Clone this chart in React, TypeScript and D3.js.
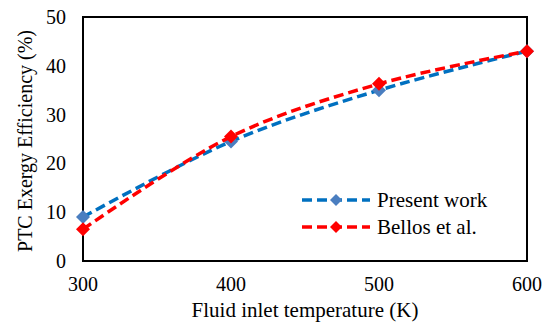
import React from "react";
import * as d3 from "d3";

const temps = [300, 400, 500, 600];
const presentWork = [9, 24.5, 35, 43];
const bellos = [6.5, 25.5, 36.3, 43];
const xTicks = [300, 400, 500, 600];
const yTicks = [0, 10, 20, 30, 40, 50];
const seriesNames = ["Present work", "Bellos et al."];

const W = 549, H = 323;
const L = 83, R = 527, T = 17, B = 261;

export default function App() {
  const x = d3.scaleLinear().domain([300, 600]).range([L, R]);
  const y = d3.scaleLinear().domain([0, 50]).range([B, T]);
  const line = d3
    .line<number>()
    .x((_, i) => x(temps[i]))
    .y((d) => y(d))
    .curve(d3.curveCatmullRom.alpha(0.5));
  const series = [
    { name: seriesNames[0], vals: presentWork, line: "#0070C0", marker: "#4A7EC0", size: 7 },
    { name: seriesNames[1], vals: bellos, line: "#FF0000", marker: "#FF0000", size: 7 },
  ];
  const diamond = (cx: number, cy: number, s: number) =>
    `M${cx},${cy - s}L${cx + s},${cy}L${cx},${cy + s}L${cx - s},${cy}Z`;
  const st = { fontFamily: "Liberation Serif, serif" };
  return (
    <svg width={W} height={H} style={{ position: "absolute", left: 0, top: 0, background: "#fff" }}>
      <rect x={0} y={0} width={W} height={H} fill="#fff" />
      <rect x={L} y={T} width={R - L} height={B - T} fill="none" stroke="#000" strokeWidth={2} />
      {yTicks.map((t) => (
        <text key={t} x={66} y={y(t)} dy="0.35em" textAnchor="end" style={st} fontSize={20} fill="#000">
          {t}
        </text>
      ))}
      {xTicks.map((t) => (
        <text key={t} x={x(t)} y={291} textAnchor="middle" style={st} fontSize={20} fill="#000">
          {t}
        </text>
      ))}
      <text x={(L + R) / 2 + 0} y={317} textAnchor="middle" style={st} fontSize={21} fill="#000">
        Fluid inlet temperature (K)
      </text>
      <text
        transform={`translate(32,141) rotate(-90)`}
        textAnchor="middle"
        style={st}
        fontSize={20}
        fill="#000"
      >
        PTC Exergy Efficiency (%)
      </text>
      {series.map((s) => (
        <g key={s.name}>
          <path d={line(s.vals) || ""} fill="none" stroke={s.line} strokeWidth={3.5} strokeDasharray="10,5" />
          {s.vals.map((v, i) => (
            <path key={i} d={diamond(x(temps[i]), y(v), s.size)} fill={s.marker} />
          ))}
        </g>
      ))}
      {series.map((s, i) => {
        const ly = 200 + i * 27;
        return (
          <g key={s.name}>
            <line x1={302} x2={370} y1={ly} y2={ly} stroke={s.line} strokeWidth={3.5} strokeDasharray="10,5" />
            <path d={diamond(336, ly, 6)} fill={s.marker} />
            <text x={377} y={ly} dy="0.35em" style={st} fontSize={21} fill="#000">
              {s.name}
            </text>
          </g>
        );
      })}
    </svg>
  );
}
